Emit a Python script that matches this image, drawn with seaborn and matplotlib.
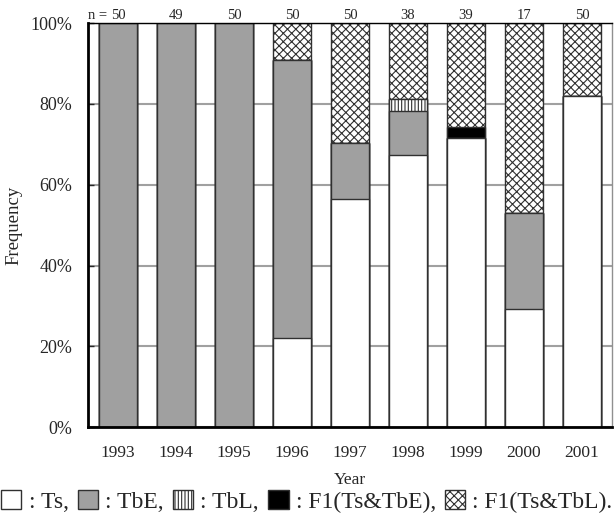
import numpy as np
import seaborn as sns
import matplotlib.pyplot as plt
from matplotlib.patches import Patch

years = ["1993", "1994", "1995", "1996", "1997", "1998", "1999", "2000", "2001"]
n_counts = [50, 49, 50, 50, 50, 38, 39, 17, 50]

# percent of each year (bottom -> top)
ts = [0, 0, 0, 22, 56.5, 67.3, 71.5, 29.3, 82]
tbe = [100, 100, 100, 69, 13.8, 10.9, 0, 23.6, 0]
tbl = [0, 0, 0, 0, 0, 3.0, 0, 0, 0]
f1_tbe = [0, 0, 0, 0, 0, 0, 2.8, 0, 0]
f1_tbl = [0, 0, 0, 9, 29.7, 18.8, 25.7, 47.1, 18]

sns.set_style("white")
plt.rcParams["font.family"] = ["Liberation Serif", "DejaVu Serif"]
plt.rcParams["hatch.linewidth"] = 0.8

fig, ax = plt.subplots(figsize=(6.14, 5.26), dpi=100)
fig.subplots_adjust(left=0.143, right=0.997, bottom=0.188, top=0.956)

layers = [
    (ts, "white", "", "Ts"),
    (tbe, "#a0a0a0", "", "TbE"),
    (tbl, "white", "|||||", "TbL"),
    (f1_tbe, "black", "", "F1(Ts&TbE)"),
    (f1_tbl, "white", "xxxx", "F1(Ts&TbL)"),
]

cum = np.cumsum([np.array(l[0], dtype=float) for l in layers], axis=0)

# draw from the top layer down so each lower stack covers the one above
for i in range(len(layers) - 1, -1, -1):
    vals, color, hatch, name = layers[i]
    sns.barplot(x=years, y=cum[i], color=color, hatch=hatch, width=0.655,
                edgecolor="#303030", linewidth=1.0, errorbar=None,
                saturation=1, ax=ax, zorder=2)

ax.set_xlim(-0.52, 8.52)
ax.set_ylim(0, 100)
ax.set_yticks([0, 20, 40, 60, 80, 100])
ax.set_yticklabels([f"{v}%" for v in range(0, 101, 20)])
ax.yaxis.grid(True, color="#a0a0a0", lw=1.5)
ax.set_axisbelow(True)

ax.set_xticks(np.arange(len(years)) + 0.5, minor=True)
ax.tick_params(axis="x", which="major", length=0, pad=13, labelsize=12.5)
ax.tick_params(axis="x", which="minor", direction="in", length=4, width=1, color="#606060")
ax.tick_params(axis="y", direction="in", length=4, width=1, pad=11, labelsize=13, left=True)

for side in ["left", "bottom"]:
    ax.spines[side].set_linewidth(2)
    ax.spines[side].set_color("black")
ax.spines["top"].set_linewidth(1)
ax.spines["top"].set_color("black")
ax.spines["right"].set_linewidth(1)
ax.spines["right"].set_color("#909090")

for i, n in enumerate(n_counts):
    ax.annotate(str(n), (i, 100), xytext=(0, 1), textcoords="offset points",
                ha="center", va="bottom", fontsize=10.5, annotation_clip=False)
    if i == 0:
        ax.annotate("n =", (i, 100), xytext=(-8, 1), textcoords="offset points",
                    ha="right", va="bottom", fontsize=10.5, annotation_clip=False)

ax.set_xlabel("Year", fontsize=12.5, labelpad=8)
ax.set_ylabel("Frequency", fontsize=13.5, labelpad=6)

handles = [Patch(facecolor=c, edgecolor="#303030", hatch=h) for _, c, h, _ in layers]
labels = [": Ts,", ": TbE,", ": TbL,", ": F1(Ts&TbE),", ": F1(Ts&TbL)."]
fig.legend(handles, labels, loc="lower center", bbox_to_anchor=(0.5, 0.0), ncol=5,
           frameon=False, fontsize=17, handlelength=0.85, handleheight=0.85,
           handletextpad=0.3, columnspacing=0.4, borderaxespad=0.15)

fig.savefig("out.png", dpi=100)
